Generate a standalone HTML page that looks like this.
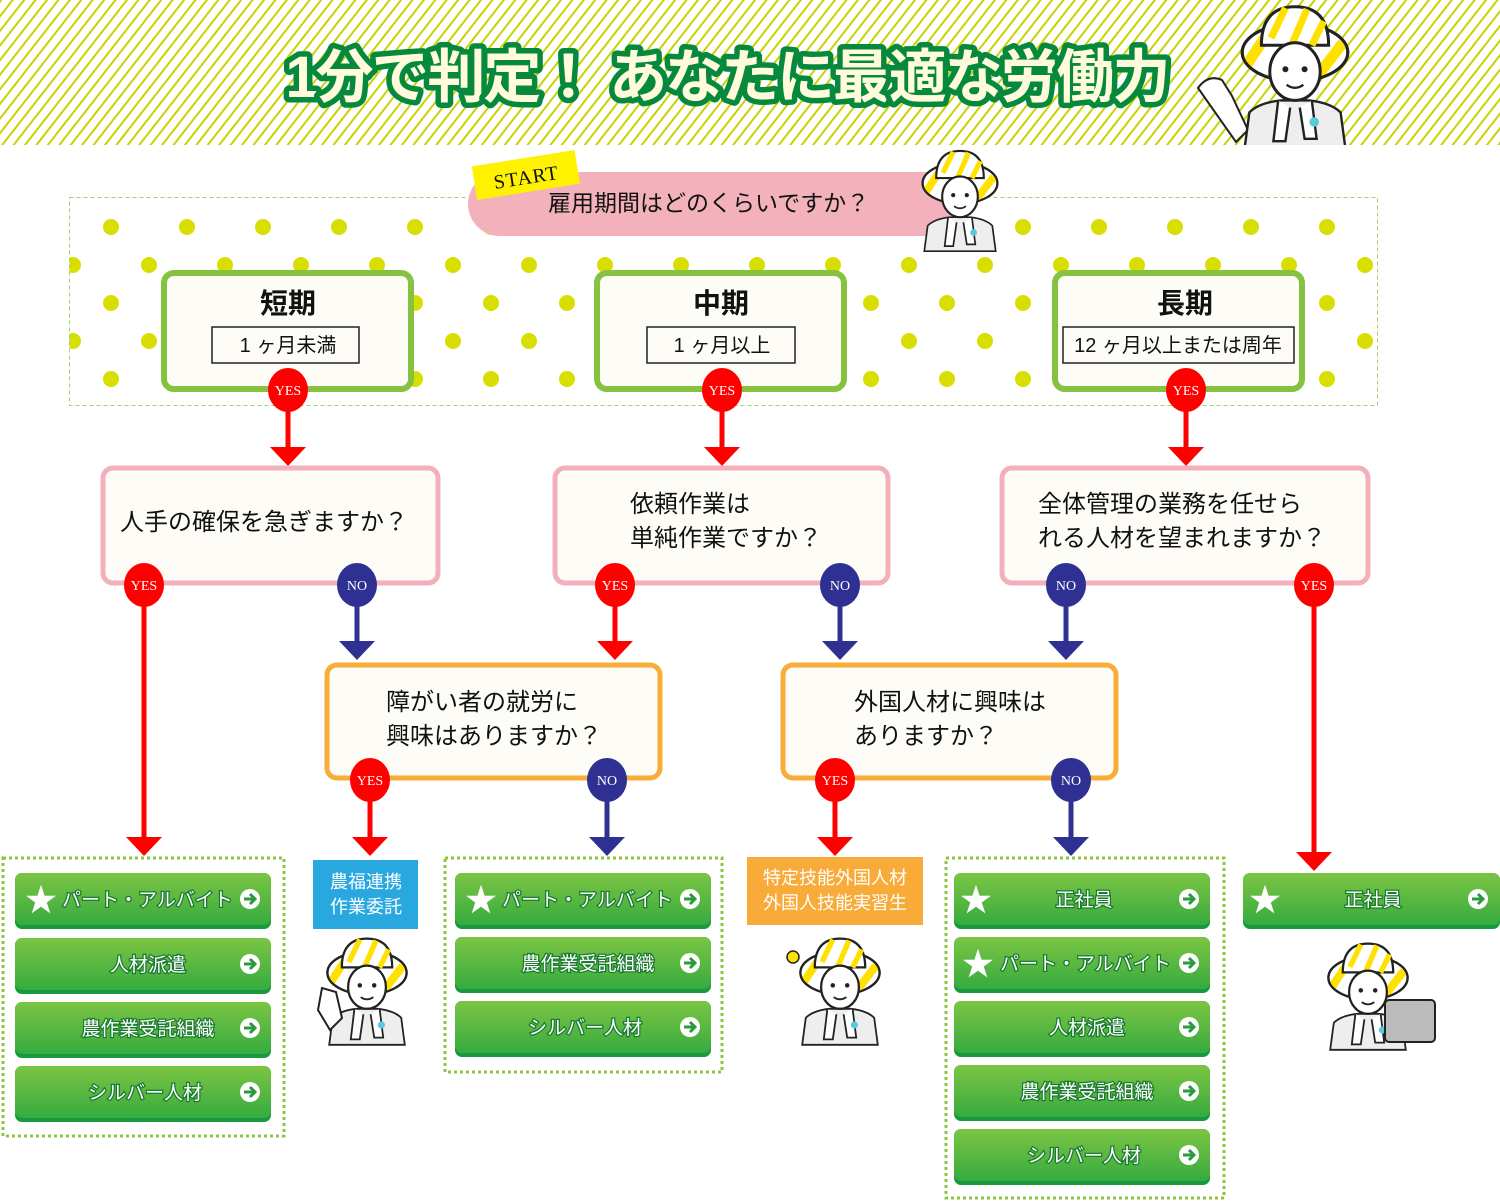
<!DOCTYPE html>
<html><head><meta charset="utf-8"><style>
html,body{margin:0;padding:0;background:#fff;}
svg{display:block;}
text{font-family:"Liberation Sans","Noto Sans CJK JP",sans-serif;}
.q{font-size:24px;fill:#111;}
.yn{font-family:"Liberation Serif",serif;font-size:14px;fill:#fff;text-anchor:middle;}
.bt{font-size:19px;fill:#fff;stroke:#1a7a2e;stroke-width:2.5px;paint-order:stroke;}
</style></head><body>
<svg width="1500" height="1203" viewBox="0 0 1500 1203" xmlns="http://www.w3.org/2000/svg">
<defs>
<pattern id="str" width="9" height="9" patternUnits="userSpaceOnUse" patternTransform="rotate(38)">
<rect width="9" height="9" fill="#fff"/><rect x="0" y="0" width="2" height="9" fill="#c9d200"/>
</pattern>
<pattern id="dots" x="92" y="208" width="76" height="76" patternUnits="userSpaceOnUse">
<circle cx="19" cy="19" r="8" fill="#d8df00"/><circle cx="57" cy="57" r="8" fill="#d8df00"/>
</pattern>
<linearGradient id="bg" x1="0" y1="0" x2="0" y2="1"><stop offset="0" stop-color="#7cc544"/><stop offset="1" stop-color="#36ab3f"/></linearGradient>
<clipPath id="hc"><rect x="0" y="0" width="1500" height="145"/></clipPath>
<g id="man">
<path d="M-42,72 L-38,42 Q-30,34 -12,32 L12,32 Q30,34 38,42 L42,72 Z" fill="#eee" stroke="#222" stroke-width="2"/>
<path d="M-14,32 L-18,66 L-8,66 L-4,38 M14,32 L18,64 L8,64 L4,38" fill="#fff" stroke="#222" stroke-width="2"/>
<circle cx="16" cy="50" r="4" fill="#5bc8dc"/>
<ellipse cx="0" cy="-8" rx="44" ry="24" fill="#fff" stroke="#222" stroke-width="2.5"/>
<path d="M-40,2 L-20,-28 M-20,14 L16,-30 M20,10 L40,-16" stroke="#ffe100" stroke-width="9"/>
<ellipse cx="0" cy="-8" rx="44" ry="24" fill="none" stroke="#222" stroke-width="2.5"/>
<path d="M-28,-14 Q-28,-46 0,-46 Q28,-46 28,-14 Z" fill="#fff" stroke="#222" stroke-width="2.5"/>
<path d="M-8,-45 L-20,-20 M10,-44 L-2,-16 M24,-34 L14,-14" stroke="#ffe100" stroke-width="6"/>
<ellipse cx="0" cy="8" rx="21" ry="24" fill="#fff" stroke="#222" stroke-width="2.5"/>
<circle cx="-8" cy="6" r="2.5" fill="#222"/><circle cx="8" cy="6" r="2.5" fill="#222"/>
<path d="M-7,19 Q0,24 7,19" fill="none" stroke="#222" stroke-width="2"/>
</g>
<g id="arr"><circle r="10" fill="#fff"/><path d="M-6,0 H5 M0,-5 L5,0 L0,5" stroke="#2a9a3c" stroke-width="3" fill="none"/></g>
</defs>

<!-- header -->
<rect x="0" y="0" width="1500" height="145" fill="url(#str)"/>
<text x="728" y="97" font-size="58" font-weight="bold" text-anchor="middle" textLength="885" fill="#fffbdc" stroke="#07893d" stroke-width="11" stroke-linejoin="round" paint-order="stroke">1分で判定！ あなたに最適な労働力</text>
<g clip-path="url(#hc)">
<path d="M1198,88 Q1208,74 1222,80 L1232,96 L1248,130 L1236,142 Z" stroke="#222" stroke-width="2" fill="#fff"/>
<use href="#man" transform="translate(1295,62) scale(1.2)"/>
</g>

<!-- dotted area -->
<rect x="69.5" y="197.5" width="1308" height="208" fill="url(#dots)" stroke="#9fd36a" stroke-width="1" stroke-dasharray="4,3"/>

<!-- start pill -->
<path d="M500,172 H960 V236 H500 A32,32 0 0 1 500,172 Z" fill="#f3b2bb"/>
<text x="548" y="211" font-size="23" fill="#111">雇用期間はどのくらいですか？</text>
<g transform="translate(526,176) rotate(-9)"><rect x="-52" y="-18" width="104" height="34" fill="#fff200"/><text x="0" y="8" style="font-family:'Liberation Serif',serif;font-size:20px;letter-spacing:1px" text-anchor="middle" fill="#111">START</text></g>
<use href="#man" transform="translate(960,190) scale(0.85)"/>

<!-- top boxes -->
<g stroke="#86c240" stroke-width="6" fill="#fdfcf6">
<rect x="164" y="273" width="247" height="116" rx="10"/>
<rect x="597" y="273" width="247" height="116" rx="10"/>
<rect x="1055" y="273" width="247" height="116" rx="10"/>
</g>
<g font-size="28" font-weight="bold" text-anchor="middle" fill="#111">
<text x="288" y="313">短期</text><text x="721" y="313">中期</text><text x="1185" y="313">長期</text>
</g>
<g fill="none" stroke="#222" stroke-width="1.5">
<rect x="212" y="327" width="147" height="36"/><rect x="647" y="327" width="148" height="36"/><rect x="1063" y="327" width="231" height="36"/>
</g>
<g font-size="20" text-anchor="middle" fill="#111">
<text x="288" y="352">1 ヶ月未満</text><text x="722" y="352">1 ヶ月以上</text><text x="1178" y="352">12 ヶ月以上または周年</text>
</g>

<!-- connectors red -->
<g stroke="#f00" stroke-width="5">
<line x1="288" y1="400" x2="288" y2="448"/><line x1="722" y1="400" x2="722" y2="448"/><line x1="1186" y1="400" x2="1186" y2="448"/>
<line x1="144" y1="595" x2="144" y2="838"/><line x1="615" y1="595" x2="615" y2="642"/><line x1="1314" y1="595" x2="1314" y2="853"/>
<line x1="370" y1="790" x2="370" y2="838"/><line x1="835" y1="790" x2="835" y2="838"/>
</g>
<g fill="#f00">
<path d="M270,447 H306 L288,466 Z"/><path d="M704,447 H740 L722,466 Z"/><path d="M1168,447 H1204 L1186,466 Z"/>
<path d="M126,837 H162 L144,856 Z"/><path d="M597,641 H633 L615,660 Z"/><path d="M1296,852 H1332 L1314,871 Z"/>
<path d="M352,837 H388 L370,856 Z"/><path d="M817,837 H853 L835,856 Z"/>
</g>
<g stroke="#2e3192" stroke-width="5">
<line x1="357" y1="595" x2="357" y2="642"/><line x1="840" y1="595" x2="840" y2="642"/><line x1="1066" y1="595" x2="1066" y2="642"/>
<line x1="607" y1="790" x2="607" y2="838"/><line x1="1071" y1="790" x2="1071" y2="838"/>
</g>
<g fill="#2e3192">
<path d="M339,641 H375 L357,660 Z"/><path d="M822,641 H858 L840,660 Z"/><path d="M1048,641 H1084 L1066,660 Z"/>
<path d="M589,837 H625 L607,856 Z"/><path d="M1053,837 H1089 L1071,856 Z"/>
</g>

<!-- second row -->
<g stroke="#f2b1ba" stroke-width="5" fill="#fdfcf6">
<rect x="103" y="468" width="335" height="115" rx="10"/>
<rect x="555" y="468" width="333" height="115" rx="10"/>
<rect x="1002" y="468" width="366" height="115" rx="10"/>
</g>
<text class="q" x="120" y="530">人手の確保を急ぎますか？</text>
<text class="q" x="630" y="512">依頼作業は</text><text class="q" x="630" y="546">単純作業ですか？</text>
<text class="q" x="1038" y="512">全体管理の業務を任せら</text><text class="q" x="1038" y="546">れる人材を望まれますか？</text>

<!-- third row -->
<g stroke="#f8ad38" stroke-width="5" fill="#fdfcf6">
<rect x="327" y="665" width="333" height="113" rx="10"/>
<rect x="783" y="665" width="333" height="113" rx="10"/>
</g>
<text class="q" x="386" y="710">障がい者の就労に</text><text class="q" x="386" y="744">興味はありますか？</text>
<text class="q" x="854" y="710">外国人材に興味は</text><text class="q" x="854" y="744">ありますか？</text>

<!-- circles -->
<g fill="#f00">
<ellipse cx="288" cy="390" rx="20" ry="22"/><ellipse cx="722" cy="390" rx="20" ry="22"/><ellipse cx="1186" cy="390" rx="20" ry="22"/>
<ellipse cx="144" cy="585" rx="20" ry="22"/><ellipse cx="615" cy="585" rx="20" ry="22"/><ellipse cx="1314" cy="585" rx="20" ry="22"/>
<ellipse cx="370" cy="780" rx="20" ry="22"/><ellipse cx="835" cy="780" rx="20" ry="22"/>
</g>
<g fill="#2e3192">
<ellipse cx="357" cy="585" rx="20" ry="22"/><ellipse cx="840" cy="585" rx="20" ry="22"/><ellipse cx="1066" cy="585" rx="20" ry="22"/>
<ellipse cx="607" cy="780" rx="20" ry="22"/><ellipse cx="1071" cy="780" rx="20" ry="22"/>
</g>
<g>
<text class="yn" x="288" y="395">YES</text><text class="yn" x="722" y="395">YES</text><text class="yn" x="1186" y="395">YES</text>
<text class="yn" x="144" y="590">YES</text><text class="yn" x="615" y="590">YES</text><text class="yn" x="1314" y="590">YES</text>
<text class="yn" x="370" y="785">YES</text><text class="yn" x="835" y="785">YES</text>
<text class="yn" x="357" y="590">NO</text><text class="yn" x="840" y="590">NO</text><text class="yn" x="1066" y="590">NO</text>
<text class="yn" x="607" y="785">NO</text><text class="yn" x="1071" y="785">NO</text>
</g>

<!-- groups -->
<g fill="none" stroke="#8cc63f" stroke-width="3" stroke-dasharray="3,3">
<rect x="3" y="858" width="281" height="278"/>
<rect x="445" y="858" width="277" height="214"/>
<rect x="946" y="858" width="278" height="340"/>
</g>
<rect x="313" y="860" width="105" height="69" fill="#29a8e0"/>
<text x="366" y="888" font-size="18" fill="#fff" text-anchor="middle">農福連携</text>
<text x="366" y="913" font-size="18" fill="#fff" text-anchor="middle">作業委託</text>
<rect x="747" y="857" width="176" height="68" fill="#f8ab38"/>
<text x="835" y="884" font-size="18" fill="#fff" text-anchor="middle">特定技能外国人材</text>
<text x="835" y="909" font-size="18" fill="#fff" text-anchor="middle">外国人技能実習生</text>

<!-- buttons -->
<g>
<g transform="translate(15,873)"><rect width="256" height="56" rx="7" fill="#179a3e"/><rect width="256" height="52" rx="7" fill="url(#bg)"/><text x="10" y="38" font-size="32" fill="#fff">★</text><text class="bt" x="47" y="33">パート・アルバイト</text><use href="#arr" x="235" y="26"/></g>
<g transform="translate(15,938)"><rect width="256" height="56" rx="7" fill="#179a3e"/><rect width="256" height="52" rx="7" fill="url(#bg)"/><text class="bt" x="133" y="33" text-anchor="middle">人材派遣</text><use href="#arr" x="235" y="26"/></g>
<g transform="translate(15,1002)"><rect width="256" height="56" rx="7" fill="#179a3e"/><rect width="256" height="52" rx="7" fill="url(#bg)"/><text class="bt" x="133" y="33" text-anchor="middle">農作業受託組織</text><use href="#arr" x="235" y="26"/></g>
<g transform="translate(15,1066)"><rect width="256" height="56" rx="7" fill="#179a3e"/><rect width="256" height="52" rx="7" fill="url(#bg)"/><text class="bt" x="130" y="33" text-anchor="middle">シルバー人材</text><use href="#arr" x="235" y="26"/></g>
<g transform="translate(455,873)"><rect width="256" height="56" rx="7" fill="#179a3e"/><rect width="256" height="52" rx="7" fill="url(#bg)"/><text x="10" y="38" font-size="32" fill="#fff">★</text><text class="bt" x="47" y="33">パート・アルバイト</text><use href="#arr" x="235" y="26"/></g>
<g transform="translate(455,937)"><rect width="256" height="56" rx="7" fill="#179a3e"/><rect width="256" height="52" rx="7" fill="url(#bg)"/><text class="bt" x="133" y="33" text-anchor="middle">農作業受託組織</text><use href="#arr" x="235" y="26"/></g>
<g transform="translate(455,1001)"><rect width="256" height="56" rx="7" fill="#179a3e"/><rect width="256" height="52" rx="7" fill="url(#bg)"/><text class="bt" x="130" y="33" text-anchor="middle">シルバー人材</text><use href="#arr" x="235" y="26"/></g>
<g transform="translate(954,873)"><rect width="256" height="56" rx="7" fill="#179a3e"/><rect width="256" height="52" rx="7" fill="url(#bg)"/><text x="6" y="38" font-size="32" fill="#fff">★</text><text class="bt" x="130" y="33" text-anchor="middle">正社員</text><use href="#arr" x="235" y="26"/></g>
<g transform="translate(954,937)"><rect width="256" height="56" rx="7" fill="#179a3e"/><rect width="256" height="52" rx="7" fill="url(#bg)"/><text x="8" y="38" font-size="32" fill="#fff">★</text><text class="bt" x="46" y="33">パート・アルバイト</text><use href="#arr" x="235" y="26"/></g>
<g transform="translate(954,1001)"><rect width="256" height="56" rx="7" fill="#179a3e"/><rect width="256" height="52" rx="7" fill="url(#bg)"/><text class="bt" x="133" y="33" text-anchor="middle">人材派遣</text><use href="#arr" x="235" y="26"/></g>
<g transform="translate(954,1065)"><rect width="256" height="56" rx="7" fill="#179a3e"/><rect width="256" height="52" rx="7" fill="url(#bg)"/><text class="bt" x="133" y="33" text-anchor="middle">農作業受託組織</text><use href="#arr" x="235" y="26"/></g>
<g transform="translate(954,1129)"><rect width="256" height="56" rx="7" fill="#179a3e"/><rect width="256" height="52" rx="7" fill="url(#bg)"/><text class="bt" x="130" y="33" text-anchor="middle">シルバー人材</text><use href="#arr" x="235" y="26"/></g>
<g transform="translate(1243,873)"><rect width="257" height="56" rx="7" fill="#179a3e"/><rect width="257" height="52" rx="7" fill="url(#bg)"/><text x="6" y="38" font-size="32" fill="#fff">★</text><text class="bt" x="130" y="33" text-anchor="middle">正社員</text><use href="#arr" x="235" y="26"/></g>
</g>

<!-- characters bottom -->
<use href="#man" transform="translate(367,980) scale(0.9)"/>
<path d="M322,988 L318,1010 L330,1030 L342,1018 L336,992 Z" fill="#fff" stroke="#222" stroke-width="2"/>
<use href="#man" transform="translate(840,980) scale(0.9)"/>
<circle cx="793" cy="957" r="6" fill="#ffe100" stroke="#222" stroke-width="1.5"/>
<use href="#man" transform="translate(1368,985) scale(0.9)"/>
<rect x="1385" y="1000" width="50" height="42" rx="4" fill="#bbb" stroke="#222" stroke-width="2"/>
</svg>
</body></html>
